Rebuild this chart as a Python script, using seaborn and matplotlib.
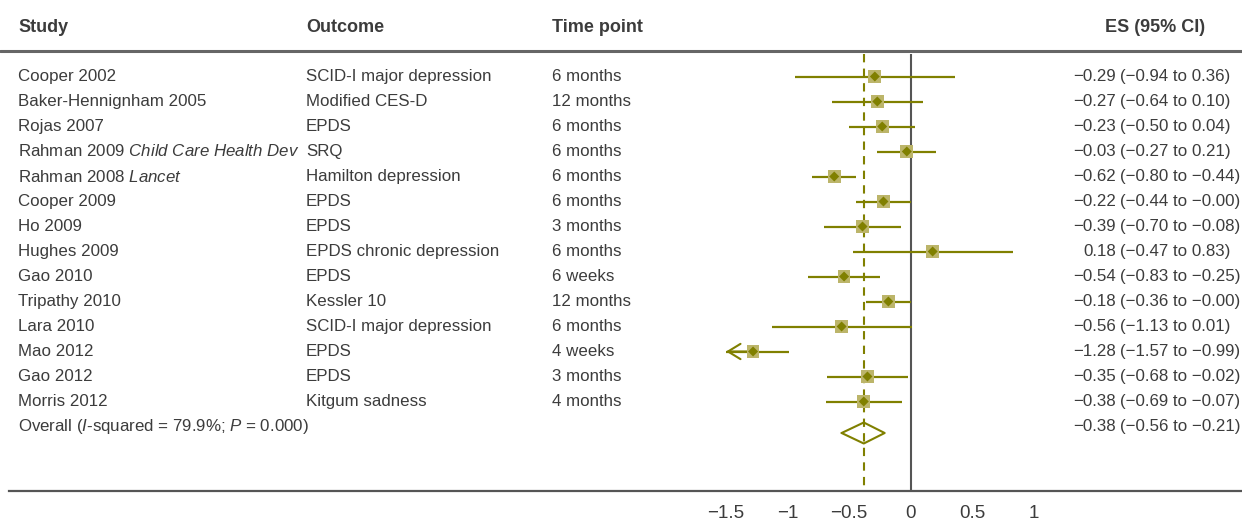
import matplotlib
matplotlib.use("Agg")
import matplotlib.pyplot as plt
import matplotlib.transforms as mtransforms
import seaborn as sns
import pandas as pd

# ---- data ----
studies = ["Cooper 2002", "Baker-Hennignham 2005", "Rojas 2007",
           "Rahman 2009 $\\it{Child\\ Care\\ Health\\ Dev}$", "Rahman 2008 $\\it{Lancet}$",
           "Cooper 2009", "Ho 2009", "Hughes 2009", "Gao 2010", "Tripathy 2010",
           "Lara 2010", "Mao 2012", "Gao 2012", "Morris 2012"]
outcomes = ["SCID-I major depression", "Modified CES-D", "EPDS", "SRQ",
            "Hamilton depression", "EPDS", "EPDS", "EPDS chronic depression",
            "EPDS", "Kessler 10", "SCID-I major depression", "EPDS", "EPDS",
            "Kitgum sadness"]
time_points = ["6 months", "12 months", "6 months", "6 months", "6 months",
               "6 months", "3 months", "6 months", "6 weeks", "12 months",
               "6 months", "4 weeks", "3 months", "4 months"]
es = [-0.29, -0.27, -0.23, -0.03, -0.62, -0.22, -0.39, 0.18, -0.54, -0.18,
      -0.56, -1.28, -0.35, -0.38]
ci_low = [-0.94, -0.64, -0.50, -0.27, -0.80, -0.44, -0.70, -0.47, -0.83, -0.36,
          -1.13, -1.57, -0.68, -0.69]
ci_high = [0.36, 0.10, 0.04, 0.21, -0.44, -0.00, -0.08, 0.83, -0.25, -0.00,
           0.01, -0.99, -0.02, -0.07]

overall_label = "Overall ($I$-squared = 79.9%; $P$ = 0.000)"
overall_es, overall_low, overall_high = -0.38, -0.56, -0.21

x_ticks = [-1.5, -1, -0.5, 0, 0.5, 1]

df = pd.DataFrame({"study": studies, "outcome": outcomes, "time": time_points,
                   "es": es, "lo": ci_low, "hi": ci_high})
df["row"] = range(len(df))
overall_row = len(df)

# ---- style ----
sns.set_style("white")
FONT = ["Liberation Sans", "DejaVu Sans"]
plt.rcParams["font.family"] = FONT
plt.rcParams["mathtext.fontset"] = "custom"
plt.rcParams["mathtext.rm"] = "Liberation Sans"
plt.rcParams["mathtext.it"] = "Liberation Sans:italic"
plt.rcParams["mathtext.bf"] = "Liberation Sans:bold"

TEXT = "#3c3c3c"
OLIVE = "#808000"
KHAKI = "#bcb56a"
GRID = "#555555"
FS = 12.2

W, H = 1242, 523
fig = plt.figure(figsize=(W / 100, H / 100), dpi=100)

# px -> data mapping for the forest panel
zero_px, unit_px = 910.5, 123.0
row0_px, row_px = 76.5, 25.0
axis_px = 490.5
left_px = 9

ax = fig.add_axes([left_px / W, (H - axis_px) / H, 1 - left_px / W, axis_px / H])
ax.set_xlim((left_px - zero_px) / unit_px, (W - zero_px) / unit_px)
ax.set_ylim((axis_px - row0_px) / row_px, (0 - row0_px) / row_px)
for s in ["top", "left", "right"]:
    ax.spines[s].set_visible(False)
ax.spines["bottom"].set_color(GRID)
ax.spines["bottom"].set_linewidth(1.6)
ax.set_xticks(x_ticks)
ax.set_xticklabels([f"{t:g}".replace("-", "\u2212") for t in x_ticks])
ax.tick_params(axis="x", direction="out", length=7.5, width=1.3, color=GRID,
               labelsize=13.5, labelcolor=TEXT, pad=3)
ax.set_yticks([])

axis_min = min(x_ticks)
top_row = (54 - row0_px) / row_px
bottom_row = ax.get_ylim()[0]

# reference lines
ax.vlines(0, top_row, bottom_row, color=GRID, lw=1.5, zorder=1)
ax.vlines(overall_es, top_row, bottom_row, color=OLIVE, lw=1.5,
          linestyles=(0, (4, 3)), zorder=1)

# confidence intervals (clipped at the axis minimum with an arrow)
for _, r in df.iterrows():
    lo = max(r["lo"], axis_min)
    ax.hlines(r["row"], lo, r["hi"], color=OLIVE, lw=1.6, zorder=2)
    if r["lo"] < axis_min:
        ax.annotate("", xy=(axis_min, r["row"]), xytext=(r["es"], r["row"]),
                    arrowprops=dict(arrowstyle="->,head_length=0.9,head_width=0.55",
                                    color=OLIVE, lw=1.5, shrinkA=0, shrinkB=0),
                    zorder=2)

# study markers
sns.scatterplot(data=df, x="es", y="row", marker="s", s=85, color=KHAKI,
                edgecolor="none", ax=ax, zorder=3, legend=False)
sns.scatterplot(data=df, x="es", y="row", marker="D", s=26, color=OLIVE,
                edgecolor="none", ax=ax, zorder=4, legend=False)
ax.set_xlabel("")
ax.set_ylabel("")

# overall diamond
dy = 0.42
drow = overall_row + 0.26
ax.plot([overall_low, overall_es, overall_high, overall_es, overall_low],
        [drow, drow - dy, drow, drow + dy, drow], color=OLIVE, lw=1.5, zorder=3)

# ---- text columns ----
blend = mtransforms.blended_transform_factory(fig.transFigure, ax.transData)
col_study, col_outcome, col_time = 18 / W, 306 / W, 552 / W
col_es_r, col_ci_l = 1116 / W, 1120 / W
header_row = (27 - row0_px) / row_px
line_row = (50.5 - row0_px) / row_px

hdr = dict(transform=blend, fontsize=13, fontweight="bold", color=TEXT, va="center")
ax.text(col_study, header_row, "Study", **hdr)
ax.text(col_outcome, header_row, "Outcome", **hdr)
ax.text(col_time, header_row, "Time point", **hdr)
ax.text(1205 / W, header_row, "ES (95% CI)", ha="right", **hdr)
ax.plot([0, 1], [line_row, line_row], transform=blend, color="#666666", lw=2.2,
        clip_on=False)


def fmt(v):
    return f"{v:.2f}".replace("-", "\u2212")


body = dict(transform=blend, fontsize=FS, color=TEXT, va="center", clip_on=False)
for _, r in df.iterrows():
    ax.text(col_study, r["row"], r["study"], **body)
    ax.text(col_outcome, r["row"], r["outcome"], **body)
    ax.text(col_time, r["row"], r["time"], **body)
    ax.text(col_es_r, r["row"], fmt(r["es"]), ha="right", **body)
    ax.text(col_ci_l, r["row"], f"({fmt(r['lo'])} to {fmt(r['hi'])})", **body)

ax.text(col_study, overall_row, overall_label, **body)
ax.text(col_es_r, overall_row, fmt(overall_es), ha="right", **body)
ax.text(col_ci_l, overall_row, f"({fmt(overall_low)} to {fmt(overall_high)})", **body)

fig.savefig("out.png", dpi=100, facecolor="white")
